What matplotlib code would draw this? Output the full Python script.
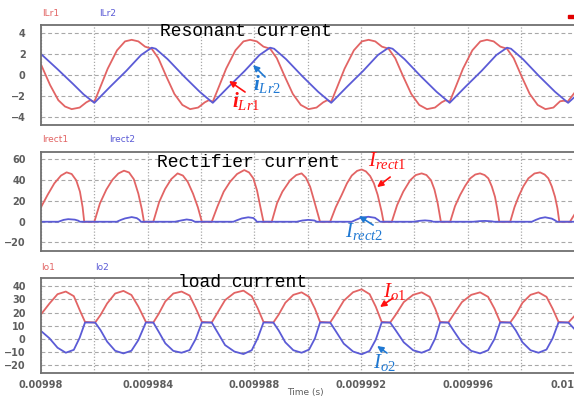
import matplotlib
matplotlib.use("Agg")
import matplotlib.pyplot as plt
import numpy as np

plt.rcParams["mathtext.fontset"] = "custom"
plt.rcParams["mathtext.it"] = "Liberation Serif:italic"
plt.rcParams["mathtext.bf"] = "Liberation Serif:italic:bold"
plt.rcParams["mathtext.rm"] = "Liberation Serif"

# time axis: microseconds after 0.00998 s
T0 = 0.00998

# resonant currents (A)
t_lr1 = [0.00, 0.34, 0.65, 0.90, 1.15, 1.45, 1.70, 1.85, 2.00, 2.20, 2.50, 2.85, 3.15, 3.40,
         3.65, 3.90, 4.15, 4.40, 4.70, 5.00, 5.30, 5.59, 5.89, 6.14, 6.29, 6.44, 6.64, 6.94,
         7.29, 7.59, 7.84, 8.09, 8.34, 8.59, 8.84, 9.14, 9.44, 9.74, 10.03, 10.33, 10.58,
         10.73, 10.88, 11.08, 11.38, 11.73, 12.03, 12.28, 12.53, 12.78, 13.03, 13.28, 13.58,
         13.88, 14.18, 14.47, 14.77, 15.02, 15.17, 15.32, 15.52, 15.82, 16.17, 16.47, 16.72,
         16.97, 17.22, 17.47, 17.72, 18.02, 18.32, 18.62, 18.91, 19.21, 19.46, 19.60, 19.74, 20.00]
i_lr1 = [1.0, -0.95, -2.4, -3.0, -3.25, -3.1, -2.6, -2.4, -2.55, -1.3, 0.6, 2.35, 3.2, 3.35,
         3.2, 2.7, 2.5, 1.6, -0.15, -1.8, -2.85, -3.25, -3.1, -2.6, -2.4, -2.55, -1.3, 0.6,
         2.35, 3.2, 3.35, 3.2, 2.7, 2.5, 1.6, -0.15, -1.8, -2.85, -3.25, -3.1, -2.6,
         -2.4, -2.55, -1.3, 0.6, 2.35, 3.2, 3.35, 3.2, 2.7, 2.5, 1.6, -0.15,
         -1.8, -2.85, -3.25, -3.1, -2.6, -2.4, -2.55, -1.3, 0.6, 2.35, 3.2, 3.35,
         3.2, 2.7, 2.5, 1.6, -0.15, -1.8, -2.85, -3.25, -3.1, -2.5, -2.45, -2.55, -1.7]

t_lr2 = [0.00, 0.60, 1.20, 1.60, 2.00, 2.60, 3.20, 3.75, 4.15, 4.30, 4.75, 5.35, 5.95, 6.44,
         7.04, 7.64, 8.19, 8.59, 8.74, 9.19, 9.79, 10.39, 10.88, 11.48, 12.08, 12.63, 13.03,
         13.18, 13.63, 14.23, 14.83, 15.32, 15.92, 16.52, 17.07, 17.47, 17.62, 18.07, 18.67,
         19.27, 19.76, 20.00]
i_lr2 = [2.0, 0.6, -0.85, -1.85, -2.65, -1.1, 0.4, 1.9, 2.6, 2.5, 1.5, -0.1, -1.6, -2.65,
         -1.1, 0.4, 1.9, 2.6, 2.5, 1.5, -0.1, -1.6, -2.65, -1.1, 0.4, 1.9, 2.6,
         2.5, 1.5, -0.1, -1.6, -2.65, -1.1, 0.4, 1.9, 2.6, 2.5, 1.5, -0.1,
         -1.6, -2.65, -2.1]

# rectifier currents (A)
t_rect1 = [0.00, 0.25, 0.50, 0.75, 0.96, 1.15, 1.32, 1.46, 1.56, 1.62,
           2.00, 2.21, 2.45, 2.68, 2.90, 3.11, 3.30, 3.48, 3.65, 3.78, 3.86,
           4.21, 4.43, 4.65, 4.88, 5.12, 5.32, 5.50, 5.70, 5.88, 6.03,
           6.40, 6.62, 6.85, 7.09, 7.35, 7.62, 7.80, 7.96, 8.10, 8.21, 8.34,
           8.65, 8.85, 9.05, 9.34, 9.57, 9.77, 9.93, 10.09, 10.22, 10.34, 10.46,
           10.84, 11.05, 11.27, 11.47, 11.65, 11.85, 12.02, 12.18, 12.34, 12.48, 12.62, 12.77, 12.84,
           13.15, 13.35, 13.58, 13.84, 14.05, 14.27, 14.45, 14.62, 14.75, 14.87, 14.99,
           15.34, 15.52, 15.71, 15.90, 16.09, 16.28, 16.46, 16.63, 16.77, 16.90, 17.02, 17.10, 17.18,
           17.59, 17.75, 17.90, 18.08, 18.27, 18.50, 18.71, 18.88, 19.02, 19.15, 19.27, 19.36, 19.43,
           19.83, 20.00]
i_rect1 = [14, 26, 37, 44.5, 47.6, 46, 40, 29, 14, 0,
           0, 17.7, 31, 40.5, 46.5, 49.2, 47.5, 41, 27, 12, 0,
           0, 19, 31.5, 41, 46.6, 44.5, 38.5, 27, 14, 0,
           0, 15, 29, 38.6, 46, 49.8, 47.5, 41.8, 30, 16, 0,
           0, 18, 29, 40, 45, 46.6, 42.5, 33.7, 22, 11, 0,
           0, 14, 25.7, 37, 44.5, 49, 50.4, 48.5, 44, 37, 26, 9.6, 0,
           0, 16, 29, 40, 45, 46.6, 45, 40, 31, 18, 0,
           0, 15, 25.7, 34.5, 41.8, 45.5, 46.6, 45, 41.8, 34, 24, 13, 0,
           0, 14, 24, 34, 41.8, 46.5, 47.6, 45.5, 41.8, 34, 24, 13, 0,
           0, 7]

t_rect2 = [0.00, 0.65, 0.85, 1.02, 1.27, 1.40, 1.46,
           2.84, 3.00, 3.15, 3.40, 3.59, 3.70, 3.74,
           5.02, 5.25, 5.46, 5.65, 5.77,
           7.21, 7.35, 7.53, 7.77, 7.96, 8.05, 8.09,
           9.59, 9.80, 10.02, 10.25, 10.34,
           11.65, 11.80, 11.96, 12.27, 12.52, 12.65, 12.71,
           13.96, 14.20, 14.40, 14.62, 14.71,
           16.20, 16.45, 16.65, 16.90, 16.98,
           18.40, 18.55, 18.71, 18.90, 19.15, 19.28, 19.34,
           20.00]
i_rect2 = [0, 0, 1.8, 2.5, 2.0, 1.0, 0,
           0, 1.8, 3.2, 4.5, 3.5, 1.5, 0,
           0, 1.2, 2.2, 1.5, 0,
           0, 1.5, 3.2, 4.3, 3.6, 1.5, 0,
           0, 1.2, 1.8, 1.2, 0,
           0, 1.8, 3.5, 4.8, 3.8, 1.5, 0,
           0, 0.9, 1.3, 0.8, 0,
           0, 0.6, 0.8, 0.4, 0,
           0, 1.8, 3.4, 4.3, 3.0, 1.2, 0,
           0]

# load currents (A)
t_o = [0.00, 0.32, 0.62, 0.93, 1.23, 1.45, 1.65, 2.03,
       2.23, 2.48, 2.78, 3.09, 3.39, 3.65, 3.93, 4.21,
       4.41, 4.66, 4.96, 5.27, 5.57, 5.80, 6.03, 6.40,
       6.62, 6.90, 7.25, 7.59, 7.90, 8.12, 8.34, 8.71,
       8.91, 9.16, 9.46, 9.77, 10.05, 10.27, 10.46, 10.84,
       11.05, 11.35, 11.70, 12.02, 12.32, 12.55, 12.77, 13.09,
       13.30, 13.60, 13.95, 14.27, 14.57, 14.78, 14.96, 15.27,
       15.48, 15.78, 16.13, 16.46, 16.76, 17.00, 17.21, 17.59,
       17.80, 18.05, 18.35, 18.65, 18.95, 19.18, 19.40, 19.77,
       20.00]
i_o1 = [18.7, 27, 34, 36.0, 32.5, 22, 13, 12.5,
        18.2, 27, 34.5, 36.5, 33.4, 24.6, 13, 12.5,
        19, 28.5, 34.5, 36, 33, 23.5, 13, 12.5,
        20, 29.5, 35, 36.7, 32.5, 23.5, 13, 12.5,
        18.5, 27.5, 33.5, 35.4, 32, 23, 13, 12.5,
        19, 29, 35.5, 37.7, 34, 24.5, 13, 12.5,
        18.5, 28, 33.5, 35.4, 32, 23, 13, 12.5,
        19, 28, 33.5, 35.4, 32, 23, 13, 12.5,
        18.5, 27.5, 33.5, 35.4, 32, 23, 13, 12.5,
        17.5]
i_o2 = [6.1, 0.5, -6.6, -10.4, -8.2, 1, 12.5, 12.5,
        6.8, -2, -8.9, -10.9, -8.9, -0.8, 12.5, 12.5,
        5.6, -3.3, -9, -10.4, -8.4, 0, 12.5, 12.5,
        5, -4.6, -9.5, -11.4, -8.5, 0.5, 12.5, 12.5,
        6.5, -2.5, -8.5, -10.4, -8, 0.5, 12.5, 12.5,
        6, -3.5, -9.5, -11.6, -9, -0.5, 12.5, 12.5,
        6.5, -2.5, -8.5, -10.4, -8, 0.5, 12.5, 12.5,
        6, -3, -9, -10.9, -8.5, 0, 12.5, 12.5,
        6.5, -2.5, -8.5, -10.4, -8, 0.5, 12.5, 12.5,
        7.5]

x_tick_us = [0, 4, 8, 12, 16, 20]
x_tick_labels = ["0.00998", "0.009984", "0.009988", "0.009992", "0.009996", "0.01"]
x_grid_us = [2, 6, 10, 14, 18]

RED = "#e26464"
BLUE = "#5b5bd6"
ANN_RED = "#ff1010"
ANN_BLUE = "#1f78d2"
GRID = "#a8a8a8"
TICK = "#5e5e5e"


def sec(t_us):
    return T0 + np.asarray(t_us) * 1e-6


W, H = 574, 398
fig = plt.figure(figsize=(W / 100, H / 100), dpi=100)


def add_panel(top, bottom, ylim, yticks):
    ax = fig.add_axes([41 / W, 1 - bottom / H, 533.5 / W, (bottom - top) / H])
    ax.set_xlim(sec(0), sec(20))
    ax.set_ylim(*ylim)
    ax.set_yticks(yticks)
    ax.set_xticks(sec(x_tick_us))
    ax.set_xticks(sec(x_grid_us), minor=True)
    ax.tick_params(axis="both", which="both", length=0, labelsize=7, colors=TICK, pad=11)
    ax.tick_params(axis="x", pad=5)
    for lab in ax.get_yticklabels():
        lab.set_fontweight("bold")
    ax.xaxis.grid(True, which="both", color=GRID, linestyle=(0, (1, 1.5)), linewidth=0.9)
    ax.yaxis.grid(True, color=GRID, linestyle=(0, (3.5, 2.5)), linewidth=0.8)
    for side in ["top", "left", "bottom"]:
        ax.spines[side].set_color("#707070")
        ax.spines[side].set_linewidth(1.3)
    ax.spines["right"].set_visible(False)
    ax.set_xticklabels([])
    return ax


ax1 = add_panel(25, 125, (-4.76, 4.76), [-4, -2, 0, 2, 4])
ax2 = add_panel(151.7, 251, (-28.2, 67.5), [-20, 0, 20, 40, 60])
ax3 = add_panel(277.7, 373.3, (-26.0, 46.5), [-20, -10, 0, 10, 20, 30, 40])

lw = 1.3
ax1.plot(sec(t_lr1), i_lr1, color=RED, lw=lw)
ax1.plot(sec(t_lr2), i_lr2, color=BLUE, lw=lw)
ax2.plot(sec(t_rect1), i_rect1, color=RED, lw=lw)
ax2.plot(sec(t_rect2), i_rect2, color=BLUE, lw=lw)
ax3.plot(sec(t_o), i_o1, color=RED, lw=lw)
ax3.plot(sec(t_o), i_o2, color=BLUE, lw=lw)

ax3.set_xticklabels(x_tick_labels, fontweight="bold")
ax3.get_xticklabels()[-1].set_horizontalalignment("right")
fig.text(305 / W, 1 - 393 / H, "Time (s)", fontsize=6.5, color=TICK, ha="center", va="center")

# series names above each panel
for x, y, s, c in [(42, 14, "ILr1", RED), (99, 14, "ILr2", BLUE),
                   (42, 140, "Irect1", RED), (109, 140, "Irect2", BLUE),
                   (41, 267, "Io1", RED), (95, 267, "Io2", BLUE)]:
    fig.text(x / W, 1 - y / H, s, fontsize=6.5, color=c, ha="left", va="center")

# panel titles
for x, y, s in [(160, 36, "Resonant current"), (157, 166.7, "Rectifier current"),
                (178, 287.3, "load current")]:
    fig.text(x / W, 1 - y / H, s, fontsize=13, family="Liberation Mono",
             ha="left", va="baseline", color="black")

# small red marker at top right
fig.patches.append(plt.Rectangle((568 / W, 1 - 18 / H), 6 / W, 3 / H,
                                 transform=fig.transFigure, color="#e00000"))


def label(ax, txt, pos, tail, tip, color):
    ax.text(sec(pos[0]), pos[1], txt, color=color, fontsize=15, ha="left", va="center")
    ax.annotate("", xy=(sec(tip[0]), tip[1]), xytext=(sec(tail[0]), tail[1]),
                arrowprops=dict(arrowstyle="-|>", color=color, lw=1.2,
                                mutation_scale=9, shrinkA=0, shrinkB=0))


label(ax1, r"$\mathbf{i}_{\mathit{Lr1}}$", (7.16, -2.48), (7.65, -1.62), (7.05, -0.57), ANN_RED)
label(ax1, r"$\mathbf{i}_{\mathit{Lr2}}$", (7.95, -0.81), (8.40, -0.19), (7.95, 0.95), ANN_BLUE)
label(ax2, r"$I_{\mathit{rect1}}$", (12.26, 59.0), (13.09, 43.1), (12.60, 33.4), ANN_RED)
label(ax2, r"$I_{\mathit{rect2}}$", (11.40, -9.4), (12.45, -3.2), (11.92, 5.5), ANN_BLUE)
label(ax3, r"$I_{\mathit{o1}}$", (12.82, 36.1), (13.20, 31.1), (12.71, 24.3), ANN_RED)
label(ax3, r"$I_{\mathit{o2}}$", (12.45, -17.8), (12.97, -10.6), (12.60, -5.3), ANN_BLUE)

fig.savefig("out.png", dpi=100)
